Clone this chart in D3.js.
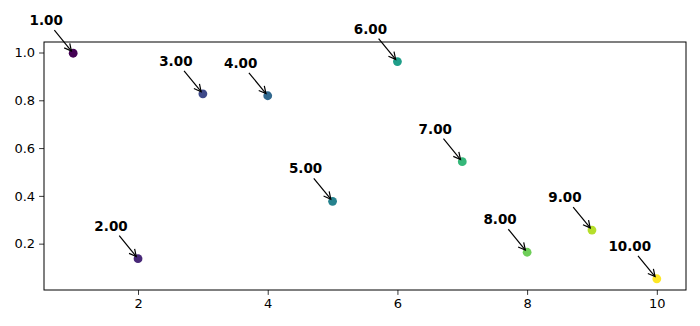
<!DOCTYPE html>
<html>
<head>
<meta charset="utf-8">
<script src="https://cdn.jsdelivr.net/npm/d3@7"></script>
<style>
  body { margin: 0; background: #fff; }
  svg { display: block; font-family: "DejaVu Sans", sans-serif; }
</style>
</head>
<body>
<div id="chart"></div>
<script>
let xs = [1, 2, 3, 4, 5, 6, 7, 8, 9, 10];
let ys = [0.997, 0.137, 0.827, 0.819, 0.377, 0.962, 0.543, 0.164, 0.257, 0.053];
let labels = ['1.00', '2.00', '3.00', '4.00', '5.00', '6.00', '7.00', '8.00', '9.00', '10.00'];
let xTicks = [2, 4, 6, 8, 10];
let yTicks = [0.2, 0.4, 0.6, 0.8, 1.0];

let width = 700, height = 326;
let m = {left: 44, right: 14, top: 42, bottom: 36};
let iw = width - m.left - m.right, ih = height - m.top - m.bottom;

let xScale = d3.scaleLinear().domain([0.55, 10.45]).range([0, iw]);
let yScale = d3.scaleLinear().domain([0.006, 1.044]).range([ih, 0]);
let color = d3.scaleSequential(d3.interpolateViridis).domain([1, 10]);

let svg = d3.select('#chart').append('svg')
    .attr('width', width)
    .attr('height', height);

let g = svg.append('g').attr('transform', `translate(${m.left},${m.top})`);

let xAxis = g.append('g')
    .attr('transform', `translate(0,${ih})`)
    .call(d3.axisBottom(xScale).tickValues(xTicks).tickSize(4.9).tickPadding(4).tickFormat(d3.format('d')));
let yAxis = g.append('g')
    .call(d3.axisLeft(yScale).tickValues(yTicks).tickSize(4.9).tickPadding(4).tickFormat(d3.format('.1f')));
[xAxis, yAxis].forEach(a => {
  a.select('.domain').remove();
  a.selectAll('text').style('font-size', '13px').style('font-family', '"DejaVu Sans"').attr('fill', '#000');
  a.selectAll('line').attr('stroke', '#000').attr('stroke-width', 0.8);
});

g.append('rect')
    .attr('width', iw).attr('height', ih)
    .attr('fill', 'none').attr('stroke', '#000').attr('stroke-width', 1);

g.selectAll('circle')
  .data(xs)
  .enter().append('circle')
    .attr('cx', d => xScale(d))
    .attr('cy', (d, i) => yScale(ys[i]))
    .attr('r', 4.4)
    .attr('fill', d => color(d));

// annotations: bold text offset up-left, open arrow pointing to the point
let ann = svg.append('g').attr('transform', `translate(${m.left},${m.top})`);
xs.forEach((d, i) => {
  let px = xScale(d), py = yScale(ys[i]);
  let tx = px - 27, ty = py - 28;
  let t = ann.append('text')
      .attr('x', tx).attr('y', ty)
      .attr('text-anchor', 'middle')
      .style('font-size', '13.5px')
      .style('font-weight', 'bold')
      .text(labels[i]);
  let bb = t.node().getBBox();
  let pad = 2;
  let cx = bb.x + bb.width / 2, cy = bb.y + bb.height / 2;
  let dx = px - cx, dy = py - cy;
  // clip line from center to bbox edge
  let sx = (bb.width / 2 + pad) / Math.abs(dx);
  let sy = (bb.height / 2 + pad) / Math.abs(dy);
  let s = Math.min(sx, sy);
  let x0 = cx + dx * s, y0 = cy + dy * s;
  let len = Math.hypot(px - x0, py - y0);
  let ux = (px - x0) / len, uy = (py - y0) / len;
  let x1 = px - ux * 2.8, y1 = py - uy * 2.8;
  ann.append('line')
      .attr('x1', x0).attr('y1', y0).attr('x2', x1).attr('y2', y1)
      .attr('stroke', '#000').attr('stroke-width', 1.2);
  let hl = 7, hw = 3.6;
  let bx = x1 - ux * hl, by = y1 - uy * hl;
  ann.append('path')
      .attr('d', `M${bx - uy * hw},${by + ux * hw}L${x1},${y1}L${bx + uy * hw},${by - ux * hw}`)
      .attr('fill', 'none').attr('stroke', '#000').attr('stroke-width', 1.2);
});
</script>
</body>
</html>
